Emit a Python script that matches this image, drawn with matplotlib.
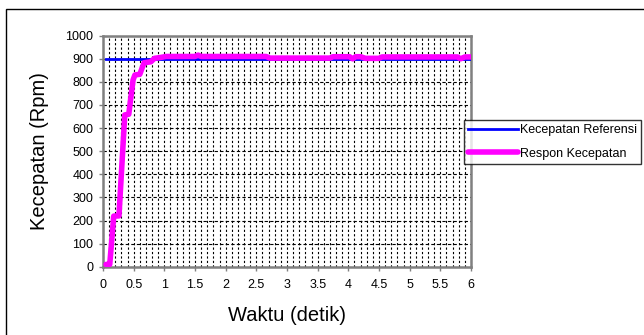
import numpy as np
import matplotlib.pyplot as plt
from matplotlib.patches import Rectangle
from matplotlib.ticker import MultipleLocator

plt.rcParams['font.family'] = ['Liberation Sans', 'DejaVu Sans']

ref_t = [0.05, 6.0]
ref_rpm = [900, 900]

resp_t = [0.05, 0.11, 0.175, 0.26, 0.355, 0.42, 0.49, 0.52, 0.6, 0.67, 0.78, 0.84,
          0.92, 1.03, 1.5, 1.55, 1.6, 2.66, 2.72, 3.7, 3.75, 4.02, 4.07, 4.12, 4.2,
          4.28, 4.5, 4.55, 5.78, 5.83, 5.9, 6.0]
resp_rpm = [10, 10, 219, 220, 657, 660, 808, 830, 833, 883, 887, 902,
            905, 910, 910, 916, 910, 910, 903, 903, 909, 909, 900, 909, 909,
            902, 902, 908, 908, 900, 908, 908]

fig = plt.figure(figsize=(6.44, 3.35), dpi=100)
fig.patches.append(Rectangle((6 / 644, -0.1), 1.0, 1 - 9 / 335 + 0.1,
                             transform=fig.transFigure, fill=False,
                             edgecolor='black', linewidth=1))

ax = fig.add_axes([103 / 644, 1 - 266.7 / 335, 368 / 644, 231 / 335])
ax.plot(ref_t, ref_rpm, color='#0000ff', lw=2, label='Kecepatan Referensi', zorder=3)
ax.plot(resp_t, resp_rpm, color='#ff00ff', lw=4, label='Respon Kecepatan',
        solid_capstyle='round', solid_joinstyle='round', zorder=4)

ax.set_xlim(0, 6)
ax.set_ylim(0, 1000)
ax.xaxis.set_minor_locator(MultipleLocator(0.1))
ax.yaxis.set_major_locator(MultipleLocator(100))
ax.set_xticks(np.arange(0, 6.01, 0.5))
ax.set_xticklabels(['0', '0.5', '1', '1.5', '2', '2.5', '3', '3.5', '4', '4.5',
                    '5', '5.5', '6'])

ax.grid(True, which='both', axis='x', color='black', lw=0.8, linestyle=(0, (2, 2)))
ax.grid(True, which='major', axis='y', color='black', lw=0.8, linestyle=(0, (3, 2)))
ax.tick_params(which='major', direction='out', length=3, width=1, color='#808080',
               labelsize=9)
ax.tick_params(axis='x', pad=6)
ax.tick_params(axis='y', pad=4)
ax.tick_params(which='minor', length=0)
for s in ax.spines.values():
    s.set_color('#808080')
    s.set_linewidth(1.8)

ax.set_xlabel('Waktu (detik)', fontsize=14.5, labelpad=11)
ax.set_ylabel('Kecepatan (Rpm)', fontsize=14.5, labelpad=12)

leg = fig.legend(loc='upper left', bbox_to_anchor=(464 / 644, 1 - 120 / 335),
                 fontsize=9, frameon=True, fancybox=False, edgecolor='black',
                 handlelength=4.0, handletextpad=0.1, borderaxespad=0,
                 borderpad=0.35, labelspacing=0.9)
leg.get_frame().set_linewidth(1)

fig.savefig('out.png', dpi=100)
